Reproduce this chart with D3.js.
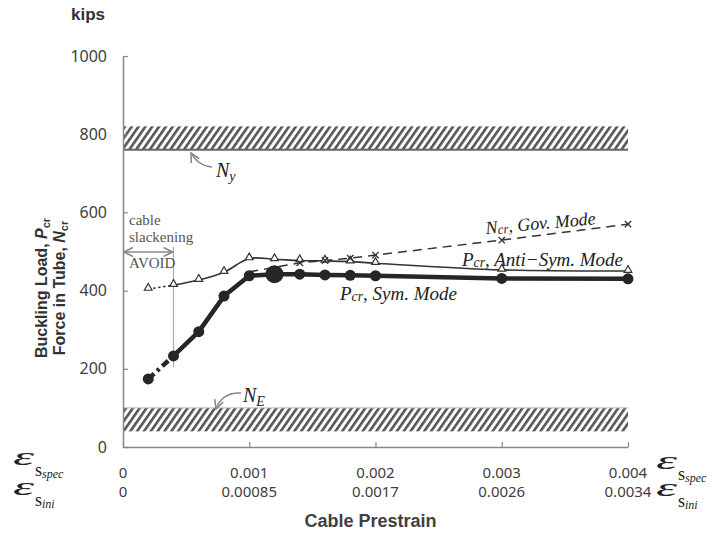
<!DOCTYPE html>
<html>
<head>
<meta charset="utf-8">
<script src="https://cdn.jsdelivr.net/npm/d3@7"></script>
<style>
  body { margin: 0; background: #fff; }
  svg { display: block; }
</style>
</head>
<body>
<svg width="720" height="535"></svg>
<script>
// values
var strainSpec = [0.0002, 0.0004, 0.0006, 0.0008, 0.001, 0.0012, 0.0014, 0.0016, 0.0018, 0.002, 0.003, 0.004];
var symLoad  = [174, 233, 295, 386, 438, 442, 442, 440, 439, 438, 431, 430];
var antiLoad = [404, 414, 427, 447, 482, 480, 477, 476, 474, 470, 453, 450];
var govStrain = [0.001, 0.0014, 0.0016, 0.0018, 0.002, 0.003, 0.004];
var govLoad   = [448, 471, 477, 483, 491, 529, 570];
var yieldBand = [760, 820];   // N_y
var eulerBand = [40, 100];    // N_E
var highlightStrain = 0.0012;
var yTicks = [0, 200, 400, 600, 800, 1000];
var xTicks = [0, 0.001, 0.002, 0.003, 0.004];
var specLabels = ["0", "0.001", "0.002", "0.003", "0.004"];
var iniLabels  = ["0", "0.00085", "0.0017", "0.0026", "0.0034"];

var svg = d3.select("svg");
var x = d3.scaleLinear().domain([0, 0.004]).range([123, 628]);
var y = d3.scaleLinear().domain([0, 1000]).range([447, 56]);
var ink = "#262626", grey = "#404040";

var defs = svg.append("defs");
var pat = defs.append("pattern")
    .attr("id", "hatch")
    .attr("patternUnits", "userSpaceOnUse")
    .attr("width", 5.6).attr("height", 10)
    .attr("patternTransform", "rotate(35)");
pat.append("rect").attr("width", 2.6).attr("height", 10).attr("fill", "#555");

defs.append("marker")
    .attr("id", "arr").attr("viewBox", "0 0 10 10")
    .attr("refX", 9).attr("refY", 5)
    .attr("markerWidth", 8).attr("markerHeight", 8)
    .attr("orient", "auto-start-reverse")
  .append("path").attr("d", "M1,1 L9,5 L1,9")
    .attr("fill", "none").attr("stroke", "#888").attr("stroke-width", 1.4);

// hatched bands
[yieldBand, eulerBand].forEach(function(b) {
  svg.append("rect")
    .attr("x", x(0)).attr("y", y(b[1]))
    .attr("width", x(0.004) - x(0)).attr("height", y(b[0]) - y(b[1]))
    .attr("fill", "url(#hatch)");
});
svg.append("line")
  .attr("x1", x(0)).attr("x2", x(0.004))
  .attr("y1", y(yieldBand[0])).attr("y2", y(yieldBand[0]))
  .attr("stroke", "#666").attr("stroke-width", 2);
svg.append("line")
  .attr("x1", x(0)).attr("x2", x(0.004))
  .attr("y1", y(eulerBand[1])).attr("y2", y(eulerBand[1]))
  .attr("stroke", "#bbb").attr("stroke-width", 1);

// axes
var yAxis = svg.append("g")
    .attr("transform", "translate(" + x(0) + ",0)")
    .call(d3.axisLeft(y).tickValues(yTicks).tickFormat(d3.format("d"))
      .tickSize(-5).tickPadding(16).tickSizeOuter(0));
var xAxis = svg.append("g")
    .attr("transform", "translate(0," + y(0) + ")")
    .call(d3.axisBottom(x).tickValues(xTicks).tickSize(-5).tickSizeOuter(0).tickFormat(""));
[yAxis, xAxis].forEach(function(a) {
  a.select(".domain").attr("stroke", "#888").attr("stroke-width", 1.5);
  a.selectAll(".tick line").attr("stroke", "#888").attr("stroke-width", 1.2);
});
yAxis.selectAll("text")
  .attr("font-family", "Noto Sans").attr("font-size", 16).attr("fill", grey);

var xl = svg.append("g").attr("font-family", "Noto Sans").attr("font-size", 15)
    .attr("fill", grey).attr("text-anchor", "middle");
xl.selectAll(".spec").data(xTicks).enter().append("text")
  .attr("x", function(d) { return x(d); }).attr("y", 478)
  .text(function(d, i) { return specLabels[i]; });
xl.selectAll(".ini").data(xTicks).enter().append("text")
  .attr("x", function(d) { return x(d); }).attr("y", 497)
  .text(function(d, i) { return iniLabels[i]; });

// epsilon labels
function epsLabel(x0, yb, sub) {
  var g = svg.append("g").attr("fill", "#222");
  g.append("text").attr("x", x0).attr("y", yb)
    .attr("font-family", "Liberation Serif").attr("font-style", "italic")
    .attr("font-size", 26).attr("textLength", 21).attr("lengthAdjust", "spacingAndGlyphs")
    .text("ε");
  var t = g.append("text").attr("x", x0 + 22).attr("y", yb + 11)
    .attr("font-family", "Liberation Serif").attr("font-size", 18);
  t.append("tspan").text("s");
  t.append("tspan").attr("dy", 2).attr("font-size", 12).attr("font-style", "italic").text(sub);
}
epsLabel(13, 465, "spec");
epsLabel(13, 495, "ini");
epsLabel(656, 469, "spec");
epsLabel(656, 496, "ini");

// axis titles
svg.append("text").attr("x", 71).attr("y", 20)
  .attr("font-family", "Liberation Sans").attr("font-weight", "bold")
  .attr("font-size", 17).attr("fill", "#333").text("kips");
svg.append("text").attr("x", x(0.002) - 5).attr("y", 527).attr("text-anchor", "middle")
  .attr("font-family", "Liberation Sans").attr("font-weight", "bold")
  .attr("font-size", 18).attr("fill", "#404040").text("Cable Prestrain");

function vTitle(cx, main, sym) {
  var t = svg.append("text")
    .attr("transform", "translate(" + cx + ",288) rotate(-90)")
    .attr("text-anchor", "middle")
    .attr("font-family", "Liberation Sans").attr("font-weight", "bold")
    .attr("font-size", 16).attr("fill", "#333");
  t.append("tspan").text(main);
  t.append("tspan").attr("font-style", "italic").text(sym);
  t.append("tspan").attr("font-size", 11).attr("dy", 3).text("cr");
}
vTitle(47, "Buckling Load, ", "P");
vTitle(65, "Force in Tube, ", "N");

// cable slackening annotation
svg.append("line")
  .attr("x1", x(0.0004)).attr("x2", x(0.0004)).attr("y1", 247).attr("y2", 367)
  .attr("stroke", "#aaa").attr("stroke-width", 1.2);
svg.append("line")
  .attr("x1", x(0) + 1).attr("x2", x(0.0004) - 1).attr("y1", 252).attr("y2", 252)
  .attr("stroke", "#888").attr("stroke-width", 1.4)
  .attr("marker-start", "url(#arr)").attr("marker-end", "url(#arr)");
var ann = svg.append("g").attr("font-family", "Liberation Serif").attr("font-size", 15).attr("fill", "#555");
ann.append("text").attr("x", 129).attr("y", 225).text("cable");
ann.append("text").attr("x", 129).attr("y", 242).text("slackening");
ann.append("text").attr("x", 129).attr("y", 268).text("AVOID");

// lines
var line = d3.line().x(function(d) { return x(d[0]); }).y(function(d) { return y(d[1]); });
var sym = strainSpec.map(function(s, i) { return [s, symLoad[i]]; });
var anti = strainSpec.map(function(s, i) { return [s, antiLoad[i]]; });
var gov = govStrain.map(function(s, i) { return [s, govLoad[i]]; });

svg.append("path").attr("d", line(gov)).attr("fill", "none")
  .attr("stroke", "#333").attr("stroke-width", 1.5).attr("stroke-dasharray", "9,6");

svg.append("path").attr("d", line(anti.slice(0, 2))).attr("fill", "none")
  .attr("stroke", "#333").attr("stroke-width", 1.5).attr("stroke-dasharray", "2.5,2.5");
svg.append("path").attr("d", line.curve(d3.curveCatmullRom.alpha(0.5))(anti.slice(1)))
  .attr("fill", "none").attr("stroke", "#333").attr("stroke-width", 1.6);
line.curve(d3.curveLinear);

svg.append("path").attr("d", line(sym.slice(0, 2))).attr("fill", "none")
  .attr("stroke", ink).attr("stroke-width", 4.5).attr("stroke-dasharray", "8,4,3,4");
svg.append("path").attr("d", line(sym.slice(1))).attr("fill", "none")
  .attr("stroke", ink).attr("stroke-width", 4.5).attr("stroke-linejoin", "round");

// markers
svg.selectAll(".tri").data(anti).enter().append("path")
  .attr("transform", function(d) { return "translate(" + x(d[0]) + "," + (y(d[1]) - 1) + ")"; })
  .attr("d", d3.symbol(d3.symbolTriangle, 26))
  .attr("fill", "#fff").attr("stroke", "#333").attr("stroke-width", 1.2);
svg.selectAll(".gx").data(gov.slice(1)).enter().append("path")
  .attr("transform", function(d) { return "translate(" + x(d[0]) + "," + y(d[1]) + ")"; })
  .attr("d", d3.symbol(d3.symbolTimes, 28))
  .attr("fill", "none").attr("stroke", "#333").attr("stroke-width", 1.3);
svg.selectAll(".dot").data(sym).enter().append("circle")
  .attr("cx", function(d) { return x(d[0]); }).attr("cy", function(d) { return y(d[1]); })
  .attr("r", function(d) { return d[0] === highlightStrain ? 9 : 5.5; })
  .attr("fill", ink);

// curve labels
function curveLabel(px, py, rot, size, sym, rest) {
  var t = svg.append("text")
    .attr("transform", "translate(" + px + "," + py + ") rotate(" + rot + ")")
    .attr("font-family", "Liberation Serif").attr("font-style", "italic")
    .attr("font-size", size).attr("fill", "#222");
  t.append("tspan").text(sym);
  t.append("tspan").attr("font-size", size * 0.72).attr("dy", 1).text("cr");
  t.append("tspan").attr("dy", -1).text(rest);
}
curveLabel(486, 234, -5, 18, "N", ", Gov. Mode");
curveLabel(462, 266, 0, 19, "P", ", Anti\u2212Sym. Mode");
curveLabel(340, 300, 0, 19, "P", ", Sym. Mode");

// N_y and N_E labels
function bandLabel(px, py, sub, arrow) {
  var t = svg.append("text").attr("x", px).attr("y", py)
    .attr("font-family", "Liberation Serif").attr("font-style", "italic")
    .attr("font-size", 20).attr("fill", "#222");
  t.append("tspan").text("N");
  t.append("tspan").attr("font-size", 14).attr("dy", 4).text(sub);
  svg.append("path").attr("d", arrow).attr("fill", "none")
    .attr("stroke", "#888").attr("stroke-width", 1.4).attr("marker-end", "url(#arr)");
}
bandLabel(216, 177, "y", "M212,167 Q198,166 191,153");
bandLabel(243, 402, "E", "M241,393 Q222,392 216,409");
</script>
</body>
</html>
